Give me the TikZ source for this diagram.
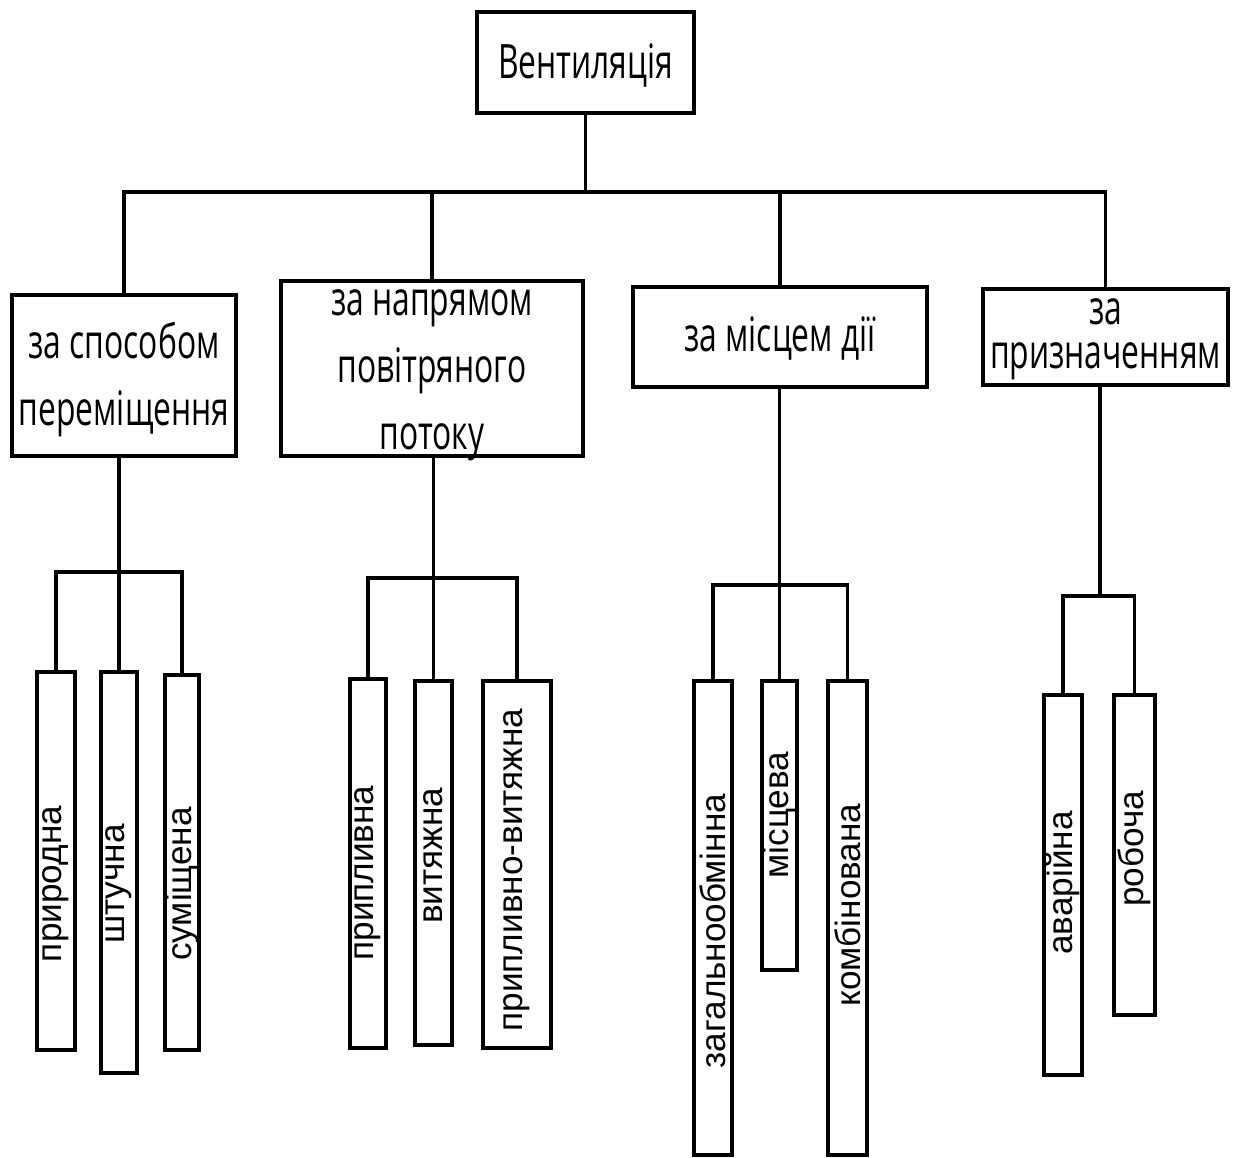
\documentclass[tikz,border=0pt]{standalone}
\usepackage{fontspec}
\setmainfont{Liberation Sans}
\newfontfamily\condfont[FakeStretch=0.67]{Open Sans}
\tikzset{
	box/.style={draw, line width=2.2pt, inner sep=0, outer sep=0},
	bigtxt/.style={font=\condfont\fontsize{27}{38}\selectfont, align=center, inner sep=0},
	vtxt/.style={font=\fontsize{20}{24}\selectfont, rotate=90, inner sep=0}
}

\begin{document}
\begin{tikzpicture}[line width=1.8pt]
	\useasboundingbox (0,0) rectangle (24.66,-23.16);
	\node[box, minimum width=4.34cm, minimum height=2.02cm] (vent) at (11.71,-1.25) {};
	\node[bigtxt] (vent_t) at (11.71,-1.31) {Вентиляція};
	\node[box, minimum width=4.48cm, minimum height=3.22cm] (k1) at (2.48,-7.51) {};
	\node[bigtxt] (k1_t) at (2.48,-7.59) {за способом\\переміщення};
	\node[box, minimum width=6.04cm, minimum height=3.5cm] (k2) at (8.64,-7.37) {};
	\node[bigtxt] (k2_t) at (8.64,-7.51) {за напрямом\\повітряного\\потоку};
	\node[box, minimum width=5.88cm, minimum height=2.0cm] (k3) at (15.6,-6.74) {};
	\node[bigtxt] (k3_t) at (15.6,-6.76) {за місцем дії};
	\node[box, minimum width=4.9cm, minimum height=1.92cm] (k4) at (22.11,-6.74) {};
	\node[bigtxt, font=\condfont\fontsize{27}{25}\selectfont] (k4_t) at (22.11,-6.78) {за\\призначенням};
	% children, boxes and their texts
	\node[box, minimum width=0.76cm, minimum height=7.56cm] (b1_1) at (1.12,-17.22) {};
	\node[box, minimum width=0.72cm, minimum height=8.02cm] (b1_2) at (2.38,-17.45) {};
	\node[box, minimum width=0.68cm, minimum height=7.5cm] (b1_3) at (3.64,-17.25) {};
	\node[vtxt] (t1_1) at (1.12,-17.68) {природна};
	\node[vtxt] (t1_2) at (2.38,-17.68) {штучна};
	\node[vtxt] (t1_3) at (3.64,-17.68) {суміщена};
	\node[box, minimum width=0.72cm, minimum height=7.38cm] (b2_1) at (7.36,-17.27) {};
	\node[box, minimum width=0.74cm, minimum height=7.28cm] (b2_2) at (8.67,-17.26) {};
	\node[box, minimum width=1.36cm, minimum height=7.34cm] (b2_3) at (10.34,-17.29) {};
	\node[vtxt] (t2_1) at (7.36,-17.46) {припливна};
	\node[vtxt] (t2_2) at (8.67,-17.12) {витяжна};
	\node[vtxt] (t2_3) at (10.34,-17.4) {припливно-витяжна};
	\node[box, minimum width=0.76cm, minimum height=9.48cm] (b3_1) at (14.26,-18.36) {};
	\node[box, minimum width=0.7cm, minimum height=5.78cm] (b3_2) at (15.59,-16.51) {};
	\node[box, minimum width=0.78cm, minimum height=9.48cm] (b3_3) at (16.95,-18.36) {};
	\node[vtxt] (t3_1) at (14.26,-18.62) {загальнообмінна};
	\node[vtxt] (t3_2) at (15.59,-16.3) {місцева};
	\node[vtxt] (t3_3) at (16.95,-18.1) {комбінована};
	\node[box, minimum width=0.76cm, minimum height=7.6cm] (b4_1) at (21.26,-17.7) {};
	\node[box, minimum width=0.82cm, minimum height=6.4cm] (b4_2) at (22.69,-17.1) {};
	\node[vtxt] (t4_1) at (21.26,-17.66) {аварійна};
	\node[vtxt] (t4_2) at (22.69,-16.98) {робоча};
	% connectors
	\coordinate (bus) at (11.66,-3.84);
	\draw (vent.south) -- (vent.south |- bus);
	\draw (k1.north) |- (bus) -| (k4.north);
	\draw (k2.north) -- (k2.north |- bus);
	\draw (k3.north) -- (k3.north |- bus);
	\coordinate (j1) at (2.38,-11.44);
	\draw (k1.south -| j1) -- (b1_2.north);
	\draw (b1_1.north) |- (j1) -| (b1_3.north);
	\coordinate (j2) at (8.67,-11.56);
	\draw (k2.south -| j2) -- (b2_2.north);
	\draw (b2_1.north) |- (j2) -| (b2_3.north);
	\coordinate (j3) at (15.59,-11.7);
	\draw (k3.south -| j3) -- (b3_2.north);
	\draw (b3_1.north) |- (j3) -| (b3_3.north);
	\coordinate (j4) at (22.0,-11.92);
	\draw (k4.south -| j4) -- (j4);
	\draw (b4_1.north) |- (j4) -| (b4_2.north);
\end{tikzpicture}
\end{document}
